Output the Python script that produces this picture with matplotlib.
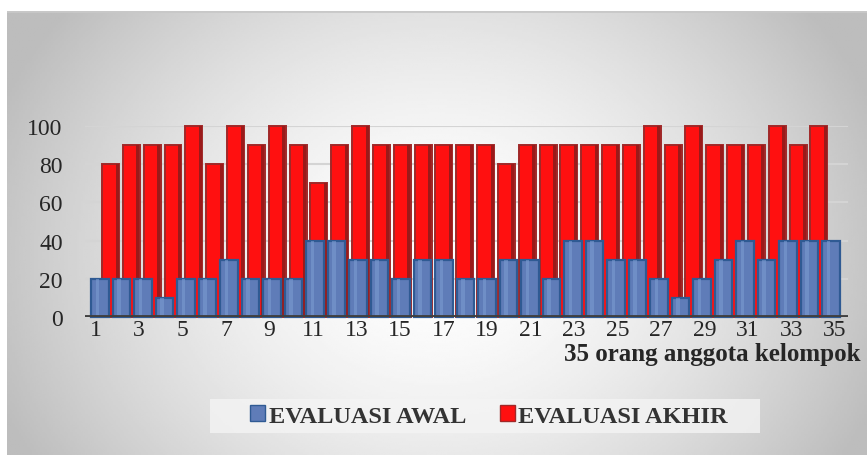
import numpy as np
import matplotlib
matplotlib.use("Agg")
from matplotlib import pyplot as plt
from matplotlib.patches import Patch, Rectangle

# data
anggota = list(range(1, 36))
evaluasi_awal = [20, 20, 20, 10, 20, 20, 30, 20, 20, 20,
                 40, 40, 30, 30, 20, 30, 30, 20, 20, 30,
                 30, 20, 40, 40, 30, 30, 20, 10, 20, 30,
                 40, 30, 40, 40, 40]
evaluasi_akhir = [80, 90, 90, 90, 100, 80, 100, 90, 100, 90,
                  70, 90, 100, 90, 90, 90, 90, 90, 90, 80,
                  90, 90, 90, 90, 90, 90, 100, 90, 100, 90,
                  90, 90, 100, 90, 100]
x_ticks = list(range(1, 36, 2))
y_ticks = [0, 20, 40, 60, 80, 100]

plt.rcParams['font.family'] = ['Liberation Serif', 'DejaVu Serif']

W, H = 867, 456
fig = plt.figure(figsize=(W / 100, H / 100), dpi=100)
fig.patch.set_facecolor('white')

# radial gray background of the chart area
bg = fig.add_axes([7 / W, 0, 1 - 7 / W, 1 - 12 / H], zorder=-10)
yy, xx = np.mgrid[0:1:200j, 0:1:400j]
r = np.sqrt(((xx - 0.5) / 0.55) ** 2 + ((yy - 0.45) / 0.9) ** 2)
shade = 1.0 - 0.26 * np.clip(r, 0, 1) ** 1.6
bg.imshow(shade, cmap='gray', vmin=0, vmax=1, aspect='auto',
          extent=[0, 1, 0, 1], origin='lower')
bg.plot([0, 1], [1, 1], color='#c8c8c8', lw=2, transform=bg.transAxes)
bg.set_axis_off()

# legend backdrop
bg.add_patch(Rectangle((210 / W, 1 - 434 / H), 550 / W, 34 / H,
                       transform=fig.transFigure, facecolor='#f4f4f4',
                       edgecolor='none', alpha=0.8))

left, right = 85, 848
base, top = 318, 127
ax = fig.add_axes([left / W, 1 - base / H, (right - left) / W, (base - top) / H])
ax.patch.set_alpha(0)

# 3D depth: back series (akhir) sits slightly narrower than the front one
n = np.array(anggota, dtype=float)
x_awal = 1.21 + (n - 1) * 0.9885
x_akhir = 1.69 + (n - 1) * 0.958

ax.bar(x_akhir, evaluasi_akhir, width=0.78, color='#ff1010',
       edgecolor='#a02828', linewidth=1.4, zorder=2, clip_on=False)
ax.bar(x_akhir + 0.3, evaluasi_akhir, width=0.14, color='#9a1a1a',
       linewidth=0, zorder=2.1, clip_on=False)
ax.bar(x_awal, evaluasi_awal, width=0.82, color='#5f7cb8',
       edgecolor='#2f5a93', linewidth=1.6, zorder=3, clip_on=False)
ax.bar(x_awal - 0.12, evaluasi_awal, width=0.16, color='#7a9bd0',
       linewidth=0, zorder=3.1, alpha=0.6, clip_on=False)

ax.set_xlim(1 - 10.5 / 21.75, 35 + 13 / 21.75)
ax.set_ylim(0, 100)
ax.set_yticks(y_ticks)
ax.set_xticks(x_ticks)
ax.tick_params(axis='both', length=0, labelsize=17, colors='#262626')
ax.tick_params(axis='y', pad=16)
ax.tick_params(axis='x', pad=1.5)
for yv in y_ticks[1:]:
    ax.axhline(yv, color='#d4d4d4', lw=1.5, zorder=1)
ax.axhline(0, color='#404040', lw=3.5, zorder=4)
for s in ax.spines.values():
    s.set_visible(False)

fig.text(860 / W, 1 - 355 / H, '35 orang anggota kelompok', ha='right',
         va='center', fontsize=18, fontweight='bold', color='#262626')

handles = [Patch(facecolor='#5f7cb8', edgecolor='#2f5a93', label='EVALUASI AWAL'),
           Patch(facecolor='#ff1010', edgecolor='#a02828', label='EVALUASI AKHIR')]
leg = fig.legend(handles=handles, loc='center', bbox_to_anchor=(489 / W, 1 - 417 / H),
                 ncol=2, frameon=False, handlelength=0.6, handleheight=0.6,
                 handletextpad=0.15, columnspacing=1.4,
                 prop={'weight': 'bold', 'size': 17.5})
for t in leg.get_texts():
    t.set_color('#333333')

fig.savefig('out.png', dpi=100)
